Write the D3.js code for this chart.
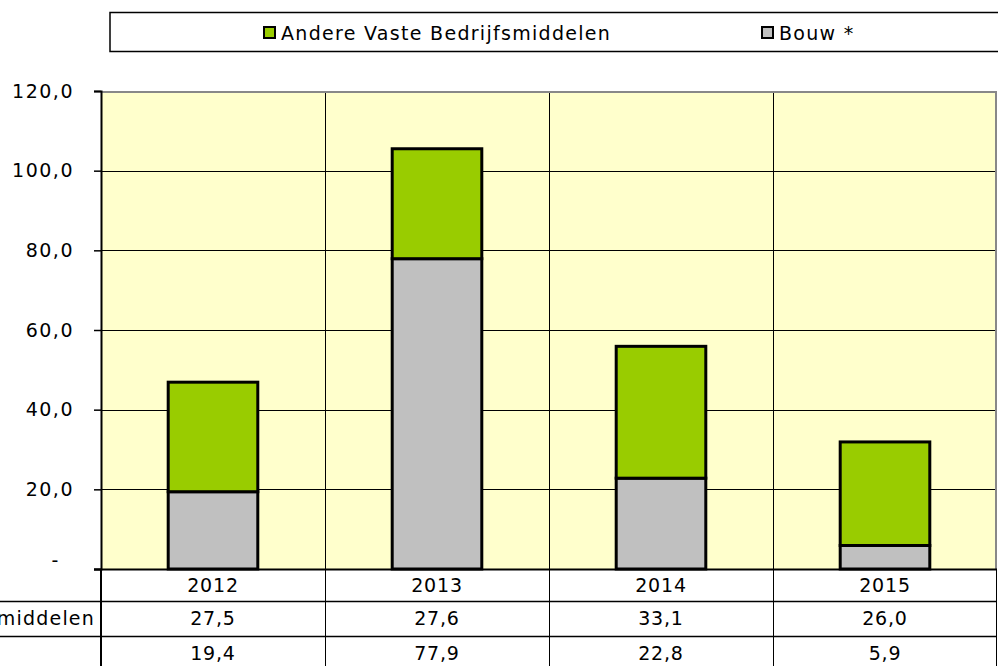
<!DOCTYPE html>
<html>
<head>
<meta charset="utf-8">
<script src="https://d3js.org/d3.v7.min.js"></script>
<style>
body { margin: 0; background: #fff; }
svg { display: block; font-family: "DejaVu Sans", Verdana, sans-serif; }
</style>
</head>
<body>
<script>
// data
var years = ["2012", "2013", "2014", "2015"];
var bouw = [19.4, 77.9, 22.8, 5.9];
var andere = [27.5, 27.6, 33.1, 26.0];
var seriesNames = ["Andere Vaste Bedrijfsmiddelen", "Bouw *"];
var seriesColors = ["#99cc00", "#c0c0c0"];
var yTicks = [0, 20, 40, 60, 80, 100, 120];

var width = 998, height = 666;
var plot = {left: 101, right: 997, top: 91, bottom: 569};
var fs = 19;

var nl = d3.formatLocale({decimal: ",", thousands: ".", grouping: [3], currency: ["", ""]});
var fmt = nl.format(".1f");

var svg = d3.select('body').append('svg').attr('width', width).attr('height', height);

var x = d3.scaleBand().domain(years).range([plot.left, plot.right]).padding(0);
var y = d3.scaleLinear().domain([0, 120]).range([plot.bottom, plot.top]);

// plot background
svg.append('rect')
  .attr('x', plot.left).attr('y', plot.top)
  .attr('width', plot.right - plot.left).attr('height', plot.bottom - plot.top)
  .attr('fill', '#ffffcc');

// horizontal gridlines
svg.append('g').selectAll('line')
  .data(yTicks.filter(function(d) { return d > 0 && d < 120; }))
  .join('line')
  .attr('x1', plot.left).attr('x2', plot.right)
  .attr('y1', function(d) { return Math.round(y(d)) + 0.5; })
  .attr('y2', function(d) { return Math.round(y(d)) + 0.5; })
  .attr('stroke', '#000').attr('stroke-width', 1);

// vertical gridlines between categories (continue through the table)
svg.append('g').selectAll('line')
  .data(years.slice(1))
  .join('line')
  .attr('x1', function(d) { return Math.round(x(d)) + 0.5; })
  .attr('x2', function(d) { return Math.round(x(d)) + 0.5; })
  .attr('y1', plot.top).attr('y2', height)
  .attr('stroke', '#000').attr('stroke-width', 1);

// top and right border of the plot (grey)
svg.append('path')
  .attr('d', 'M' + plot.left + ',' + (plot.top + 1) + 'H' + (plot.right - 1) + 'V' + plot.bottom)
  .attr('fill', 'none').attr('stroke', '#888').attr('stroke-width', 2);

// stacked bars
var stackData = years.map(function(yr, i) { return {year: yr, bouw: bouw[i], andere: andere[i]}; });
var stack = d3.stack().keys(['bouw', 'andere']);
var layers = stack(stackData);
var barW = x.bandwidth() * 0.4;
var colorOf = {bouw: seriesColors[1], andere: seriesColors[0]};

svg.append('g').selectAll('g')
  .data(layers)
  .join('g')
  .attr('fill', function(d) { return colorOf[d.key]; })
  .selectAll('rect')
  .data(function(d) { return d; })
  .join('rect')
  .attr('x', function(d) { return x(d.data.year) + (x.bandwidth() - barW) / 2; })
  .attr('width', barW)
  .attr('y', function(d) { return y(d[1]); })
  .attr('height', function(d) { return y(d[0]) - y(d[1]); })
  .attr('stroke', '#000').attr('stroke-width', 3);

// y axis
var yAxis = svg.append('g')
  .attr('transform', 'translate(' + plot.left + ',0)')
  .call(d3.axisLeft(y).tickValues(yTicks).tickSize(7).tickPadding(20)
    .tickFormat(function(d) { return d === 0 ? '' : fmt(d); }));
yAxis.select('.domain').attr('stroke', '#000').attr('stroke-width', 2);
yAxis.selectAll('.tick line').attr('stroke', '#000').attr('stroke-width', 1.5);
yAxis.selectAll('text').attr('font-size', fs).attr('fill', '#000')
  .attr('letter-spacing', 1.5)
  .attr('font-family', '"DejaVu Sans", Verdana, sans-serif');
// zero label shown as a dash
svg.append('text').attr('x', 55).attr('y', y(0) - 2).attr('text-anchor', 'middle')
  .attr('font-size', fs).text('-');

// x axis line
svg.append('line')
  .attr('x1', plot.left - 7).attr('x2', plot.right)
  .attr('y1', plot.bottom + 0.5).attr('y2', plot.bottom + 0.5)
  .attr('stroke', '#000').attr('stroke-width', 2);

// data table
var rowY = [569, 601, 636, 670];
var tableRows = [
  {label: '', values: years},
  {label: seriesNames[0], values: andere.map(fmt)},
  {label: '', values: bouw.map(fmt)}
];

svg.append('g').selectAll('line')
  .data(rowY.slice(1, 3))
  .join('line')
  .attr('x1', 0).attr('x2', plot.right)
  .attr('y1', function(d) { return d + 0.5; }).attr('y2', function(d) { return d + 0.5; })
  .attr('stroke', '#000').attr('stroke-width', 1.5);

svg.append('line')
  .attr('x1', plot.left).attr('x2', plot.left)
  .attr('y1', plot.bottom).attr('y2', height)
  .attr('stroke', '#000').attr('stroke-width', 2);
svg.append('line')
  .attr('x1', plot.right - 0.5).attr('x2', plot.right - 0.5)
  .attr('y1', plot.bottom).attr('y2', height)
  .attr('stroke', '#000').attr('stroke-width', 1);

var rows = svg.append('g').selectAll('g')
  .data(tableRows)
  .join('g');

rows.each(function(r, i) {
  var g = d3.select(this);
  var cy = (rowY[i] + rowY[i + 1]) / 2;
  g.selectAll('text.v')
    .data(r.values)
    .join('text')
    .attr('class', 'v')
    .attr('x', function(d, j) { return x(years[j]) + x.bandwidth() / 2; })
    .attr('y', cy)
    .attr('dy', '0.36em')
    .attr('text-anchor', 'middle')
    .attr('font-size', fs)
    .attr('letter-spacing', 0.8)
    .text(function(d) { return d; });
  g.append('text')
    .attr('x', 95).attr('y', cy).attr('dy', '0.36em')
    .attr('text-anchor', 'end').attr('font-size', fs)
    .attr('letter-spacing', 1.2)
    .text(r.label);
});

// legend
var legend = svg.append('g');
legend.append('rect')
  .attr('x', 110).attr('y', 12.5).attr('width', 900).attr('height', 39)
  .attr('fill', '#fff').attr('stroke', '#000').attr('stroke-width', 1.5);
var legendX = [263, 761];
var items = legend.selectAll('g.item')
  .data(seriesNames)
  .join('g')
  .attr('class', 'item')
  .attr('transform', function(d, i) { return 'translate(' + legendX[i] + ',0)'; });
items.append('rect')
  .attr('x', 1).attr('y', 27).attr('width', 11).attr('height', 11)
  .attr('fill', function(d, i) { return seriesColors[i]; })
  .attr('stroke', '#000').attr('stroke-width', 2);
items.append('text')
  .attr('x', 18).attr('y', 33).attr('dy', '0.36em')
  .attr('font-size', fs)
  .attr('letter-spacing', 1.3)
  .text(function(d) { return d; });
</script>
</body>
</html>
